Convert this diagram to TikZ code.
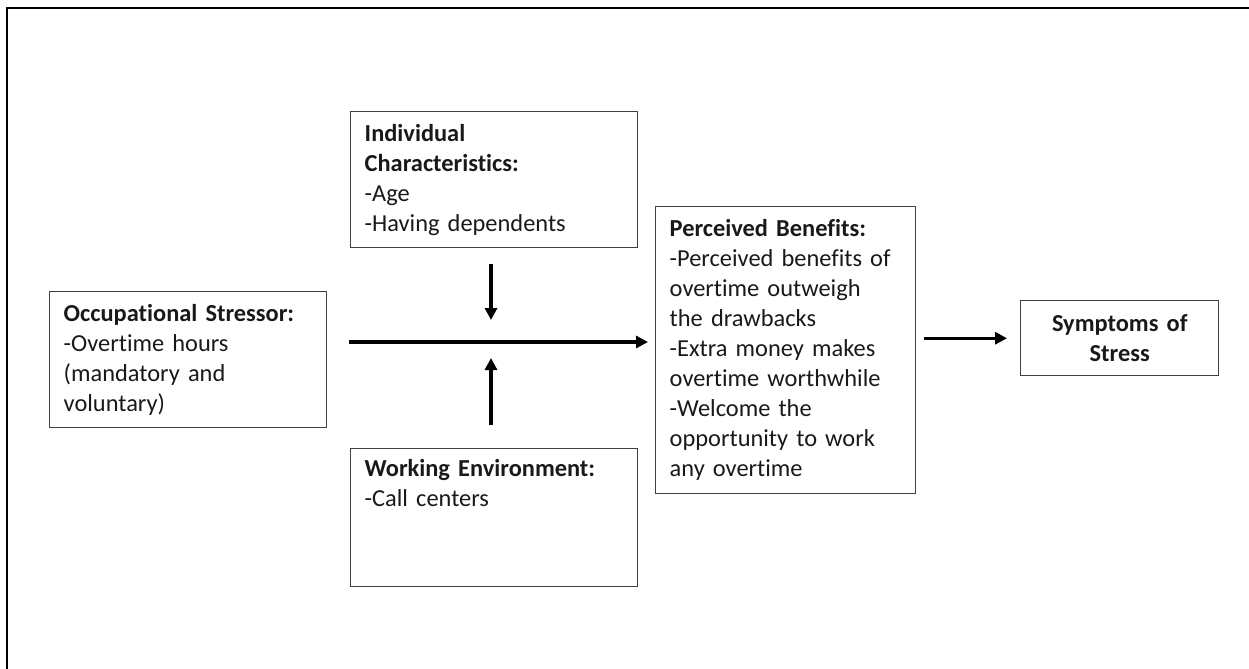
\documentclass[tikz,border=0pt]{standalone}
\usepackage{fontspec}
\setmainfont{Carlito}[Ligatures = CommonOff]
\usetikzlibrary{arrows.meta}

\begin{document}
\begin{tikzpicture}[x = 0.75pt, y = -0.75pt]
		\tikzset{> = {Triangle[length = 9pt, width = 9pt]}}
		\tikzset{factor/.style = {draw = black!75, line width = 1.1pt, anchor = north west, align = left, inner xsep = 10.5pt, inner ysep = 6pt, text = black!90, font = \fontsize{18.3}{22.5}\selectfont}}
		\tikzset{link/.style = {->, line width = 2.4pt}}
		\useasboundingbox (0,0) rectangle (1249,668);
		\clip (0,0) rectangle (1249,668);
		\draw [line width = 1.6pt] (7,8) rectangle (1262,682);
		\node [factor, text width = 186.75pt, minimum height = 102pt] (stressor) at (49,291) {\textbf{Occupational Stressor:}\\-Overtime hours\\(mandatory and\\voluntary)};
		\node [factor, text width = 194.25pt, minimum height = 102pt] (indiv) at (350,111) {\textbf{Individual}\\\textbf{Characteristics:}\\-Age\\-Having dependents};
		\node [factor, text width = 194.25pt, minimum height = 103.5pt] (working) at (350,448) {\textbf{Working Environment:}\\-Call centers\\\strut\\\strut};
		\node [factor, text width = 174pt, minimum height = 215.25pt] (benefits) at (655,206) {\textbf{Perceived Benefits:}\\-Perceived benefits of\\overtime outweigh\\the drawbacks\\-Extra money makes\\overtime worthwhile\\-Welcome the\\opportunity to work\\any overtime};
		\node [factor, align = center, text width = 127.5pt, minimum height = 56.25pt] (symptoms) at (1020,300) {\textbf{Symptoms of}\\\textbf{Stress}};
		\coordinate (cross) at (491,342);
		\draw [link, shorten <= 16.5pt, shorten >= 5.25pt] (cross -| stressor.east) -- (cross -| benefits.west);
		\draw [link, shorten <= 12pt, shorten >= 16.5pt] (cross |- indiv.south) -- (cross);
		\draw [link, shorten <= 17.25pt, shorten >= 12pt] (cross |- working.north) -- (cross);
		\draw [link, shorten <= 6pt, shorten >= 9.75pt] (benefits.east |- symptoms.west) -- (symptoms.west);
	\end{tikzpicture}
\end{document}
